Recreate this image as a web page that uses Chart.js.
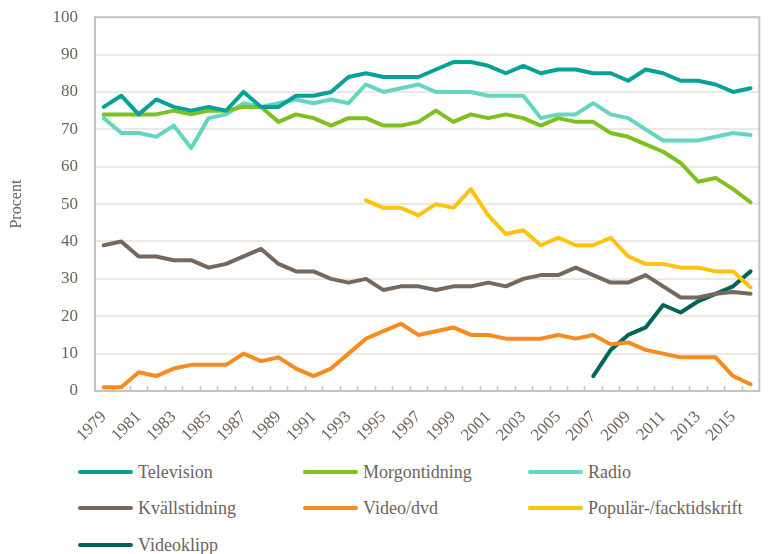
<!DOCTYPE html>
<html>
<head>
<meta charset="utf-8">
<script src="https://cdn.jsdelivr.net/npm/chart.js@4.4.1/dist/chart.umd.min.js"></script>
<style>
	body { margin: 0; background: #fff; }
	#wrap { position: relative; width: 781px; height: 554px; overflow: hidden; }
	#chart { position: absolute; left: 0; top: -10px; }
	.leg { position: absolute; font-family: "Liberation Serif", "Times New Roman", serif; font-size: 18px; color: #6E6359; white-space: nowrap; }
	.leg span.line { position: absolute; left: 0; top: 50%; width: 55px; height: 4px; margin-top: -2px; border-radius: 2px; }
	.leg span.txt { position: absolute; left: 60px; top: 0; line-height: 22px; }
</style>
</head>
<body>
<div id="wrap">
	<canvas id="chart" width="781" height="465"></canvas>
	<div id="legend"></div>
</div>
<script>
// years on the x axis
var years = [];
for (var y = 1979; y <= 2016; y++) years.push(String(y));

// values (procent), null where no data
var television    = [76, 79, 74, 78, 76, 75, 76, 75, 80, 76, 76, 79, 79, 80, 84, 85, 84, 84, 84, 86, 88, 88, 87, 85, 87, 85, 86, 86, 85, 85, 83, 86, 85, 83, 83, 82, 80, 81];
var morgontidning = [74, 74, 74, 74, 75, 74, 75, 75, 76, 76, 72, 74, 73, 71, 73, 73, 71, 71, 72, 75, 72, 74, 73, 74, 73, 71, 73, 72, 72, 69, 68, 66, 64, 61, 56, 57, 54, 50.5];
var radio         = [73, 69, 69, 68, 71, 65, 73, 74, 77, 76, 77, 78, 77, 78, 77, 82, 80, 81, 82, 80, 80, 80, 79, 79, 79, 73, 74, 74, 77, 74, 73, 70, 67, 67, 67, 68, 69, 68.5];
var kvallstidning = [39, 40, 36, 36, 35, 35, 33, 34, 36, 38, 34, 32, 32, 30, 29, 30, 27, 28, 28, 27, 28, 28, 29, 28, 30, 31, 31, 33, 31, 29, 29, 31, 28, 25, 25, 26, 26.5, 26];
var videoDvd      = [1, 1, 5, 4, 6, 7, 7, 7, 10, 8, 9, 6, 4, 6, 10, 14, 16, 18, 15, 16, 17, 15, 15, 14, 14, 14, 15, 14, 15, 12.5, 13, 11, 10, 9, 9, 9, 4, 1.8];
var tidskrift     = [null, null, null, null, null, null, null, null, null, null, null, null, null, null, null, 51, 49, 49, 47, 50, 49, 54, 47, 42, 43, 39, 41, 39, 39, 41, 36, 34, 34, 33, 33, 32, 32, 27.7];
var videoklipp    = [null, null, null, null, null, null, null, null, null, null, null, null, null, null, null, null, null, null, null, null, null, null, null, null, null, null, null, null, 4, 11, 15, 17, 23, 21, 24, 26, 28, 32];

var seriesNames  = ['Television', 'Morgontidning', 'Radio', 'Kvällstidning', 'Video/dvd', 'Populär-/facktidskrift', 'Videoklipp'];
var seriesData   = [television, morgontidning, radio, kvallstidning, videoDvd, tidskrift, videoklipp];
var seriesColors = ['#06A197', '#7CC11F', '#66D5C0', '#76685C', '#F68B1F', '#FFC20F', '#00645B'];

var textColor = '#6E6359';
var axisColor = '#CBC3BB';
var gridColor = '#ECE8E4';
var serif = '"Liberation Serif", "Times New Roman", serif';

// box round the plot and small tick marks pointing up inside it
var boxPlugin = {
	id: 'box',
	beforeDatasetsDraw: function(chart) {
		var ctx = chart.ctx;
		var a = chart.chartArea;
		var xs = chart.scales.x;
		var n = chart.data.labels.length;
		ctx.save();
		ctx.strokeStyle = axisColor;
		ctx.lineWidth = 2;
		ctx.beginPath();
		ctx.moveTo(a.left, a.top);
		ctx.lineTo(a.right, a.top);
		ctx.lineTo(a.right, a.bottom);
		ctx.stroke();
		ctx.lineWidth = 1.5;
		ctx.beginPath();
		for (var i = 1; i < n; i++) {
			var x = Math.round(xs.left + i * xs.width / n) + 0.5;
			ctx.moveTo(x, a.bottom);
			ctx.lineTo(x, a.bottom - 5);
		}
		ctx.stroke();
		ctx.restore();
	}
};

var datasets = [];
for (var i = 0; i < seriesNames.length; i++) {
	datasets.push({
		label: seriesNames[i],
		data: seriesData[i],
		borderColor: seriesColors[i],
		backgroundColor: seriesColors[i],
		borderWidth: 4,
		pointRadius: 0,
		pointHoverRadius: 0,
		tension: 0,
		spanGaps: false,
		borderJoinStyle: 'round',
		borderCapStyle: 'round'
	});
}

var ctx = document.getElementById('chart').getContext('2d');
var chart = new Chart(ctx, {
	type: 'line',
	data: { labels: years, datasets: datasets },
	plugins: [boxPlugin],
	options: {
		responsive: false,
		animation: false,
		layout: { padding: { top: 7, right: 1, left: 0, bottom: 0 } },
		plugins: {
			legend: { display: false },
			tooltip: { enabled: false }
		},
		scales: {
			x: {
				offset: true,
				afterFit: function(scale) { scale.height = 64; },
				grid: { display: false, drawTicks: false },
				border: { display: true, color: axisColor, width: 2 },
				ticks: {
					autoSkip: false,
					maxRotation: 45,
					minRotation: 45,
					padding: 16,
					color: textColor,
					font: { family: serif, size: 17 },
					callback: function(val, idx) {
						return idx % 2 === 0 ? this.getLabelForValue(val) : '';
					}
				}
			},
			y: {
				min: 0,
				max: 100,
				afterFit: function(scale) { scale.width = 95; },
				grid: { color: gridColor, lineWidth: 2, drawTicks: false },
				border: { display: true, color: axisColor, width: 2 },
				ticks: {
					stepSize: 10,
					padding: 17,
					color: textColor,
					font: { family: serif, size: 17 }
				},
				title: {
					display: true,
					text: 'Procent',
					color: textColor,
					padding: { top: 7, bottom: 0 },
					font: { family: serif, size: 16 }
				}
			}
		}
	}
});

// legend in three columns under the chart
var legendBox = document.getElementById('legend');
var colX = [78, 303, 528];
var rowY = [461, 497, 534];
chart.data.datasets.forEach(function(ds, i) {
	var item = document.createElement('div');
	item.className = 'leg';
	item.style.left = colX[i % 3] + 'px';
	item.style.top = rowY[Math.floor(i / 3)] + 'px';
	item.style.height = '22px';
	item.style.width = '220px';
	var line = document.createElement('span');
	line.className = 'line';
	line.style.background = ds.borderColor;
	var txt = document.createElement('span');
	txt.className = 'txt';
	txt.textContent = ds.label;
	item.appendChild(line);
	item.appendChild(txt);
	legendBox.appendChild(item);
});
</script>
</body>
</html>
